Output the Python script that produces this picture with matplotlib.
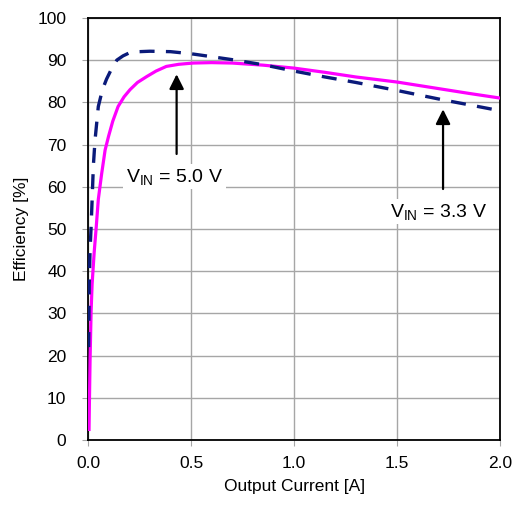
import matplotlib
matplotlib.use("Agg")
import matplotlib.pyplot as plt

plt.rcParams['font.family'] = ['Liberation Sans', 'DejaVu Sans']
plt.rcParams['mathtext.fontset'] = 'custom'
plt.rcParams['mathtext.rm'] = 'Liberation Sans'
plt.rcParams['mathtext.it'] = 'Liberation Sans'

# output current [A] and efficiency [%]
i_33 = [0.003, 0.006, 0.01, 0.015, 0.02, 0.026, 0.034, 0.05, 0.07, 0.09, 0.115,
        0.14, 0.17, 0.2, 0.25, 0.3, 0.4, 0.5, 0.544, 0.7, 0.85, 1.0, 1.15,
        1.3, 1.5, 1.72, 1.85, 2.0]
eff_33 = [22, 37, 45, 50.5, 57, 65, 71, 79, 83, 85.5, 88,
          90, 91, 91.7, 92, 92.1, 92, 91.5, 91.2, 90.1, 88.9, 87.4, 86,
          84.7, 82.8, 80.6, 79.4, 78]

i_50 = [0.005, 0.007, 0.01, 0.015, 0.02, 0.03, 0.04, 0.05, 0.066, 0.083, 0.1,
        0.12, 0.146, 0.175, 0.204, 0.24, 0.285, 0.33, 0.38, 0.44, 0.51, 0.6,
        0.7, 0.85, 1.0, 1.15, 1.3, 1.5, 1.72, 1.85, 2.0]
eff_50 = [2.5, 9.5, 19, 30.5, 37, 44.5, 50.5, 57, 63, 68.7, 72,
          75.5, 79, 81.3, 83, 84.7, 86.1, 87.4, 88.5, 89, 89.3, 89.4,
          89.3, 88.8, 88.1, 87.1, 86, 84.8, 83.1, 82.1, 81]

x_ticks = [0.0, 0.5, 1.0, 1.5, 2.0]
y_ticks = list(range(0, 101, 10))

fig = plt.figure(figsize=(5.27, 5.11), dpi=100)
ax = fig.add_axes([0.167, 0.139, 0.782, 0.826])

ax.plot(i_50, eff_50, color='#ff00ff', lw=2.3, zorder=3, solid_joinstyle='round')
ax.plot(i_33, eff_33, color='#0a1a7a', lw=2.4, dashes=(4.5, 3.4), zorder=4)

ax.set_xlim(0, 2.0)
ax.set_ylim(0, 100)
ax.set_xticks(x_ticks)
ax.set_xticklabels([f'{v:.1f}' for v in x_ticks])
ax.set_yticks(y_ticks)
ax.grid(True, color='#a6a6a6', lw=1.0)
ax.set_axisbelow(True)
for s in ax.spines.values():
    s.set_color('black')
    s.set_linewidth(1.3)
ax.tick_params(axis='y', length=4.5, color='#a6a6a6', labelsize=12.5, pad=11)
ax.tick_params(axis='x', length=4.5, color='#a6a6a6', labelsize=12.5, pad=7)

ax.set_xlabel('Output Current [A]', fontsize=12.5, labelpad=6)
ax.set_ylabel('Efficiency [%]', fontsize=12.5, labelpad=6)

arrow = dict(arrowstyle='-|>', color='black', lw=1.6, mutation_scale=22)
ax.annotate('', xy=(0.43, 87.3), xytext=(0.43, 67.1), arrowprops=arrow, zorder=5)
ax.annotate('', xy=(1.723, 79.0), xytext=(1.723, 58.8), arrowprops=arrow, zorder=5)

box = dict(facecolor='white', edgecolor='none', pad=2)
ax.text(0.42, 62.4, r'V$_{\mathrm{IN}}$ = 5.0 V', fontsize=14, ha='center',
        va='center', bbox=box, zorder=5)
ax.text(1.70, 54.1, r'V$_{\mathrm{IN}}$ = 3.3 V', fontsize=14, ha='center',
        va='center', bbox=box, zorder=5)

plt.savefig('out.png', dpi=100)
